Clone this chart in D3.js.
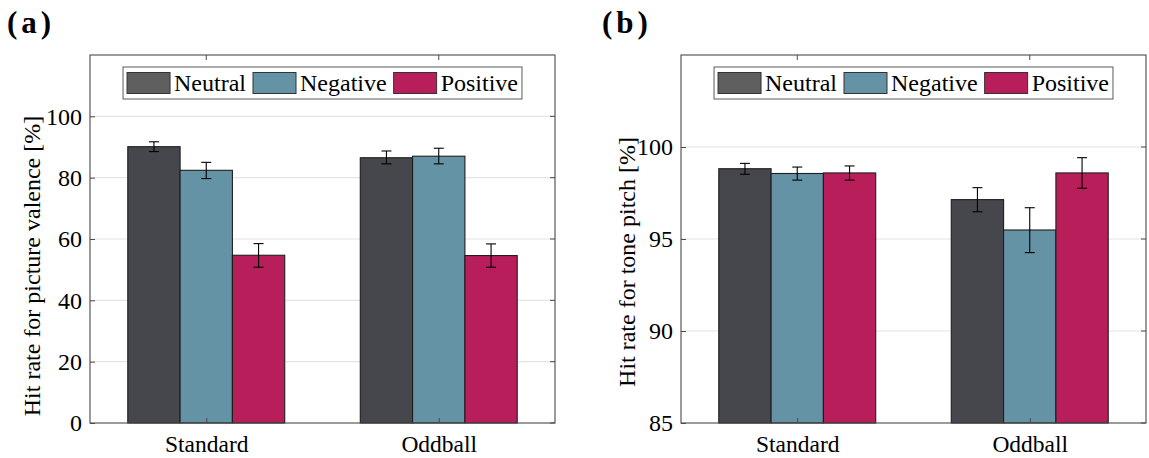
<!DOCTYPE html>
<html>
<head>
<meta charset="utf-8">
<script src="https://cdn.jsdelivr.net/npm/d3@7"></script>
<style>
  body { margin: 0; background: #fff; }
  svg, svg text { font-family: 'Liberation Serif', 'Times New Roman', Times, 'DejaVu Serif', serif !important; }
</style>
</head>
<body>
<svg id="chart" width="1149" height="458"></svg>
<script>
// ---------- data ----------
const categories = ["Standard", "Oddball"];
const seriesNames = ["Neutral", "Negative", "Positive"];
const barColors = ["#45474d", "#6593a6", "#b81f5a"];
const legendColors = ["#5f5f5f", "#6593a6", "#b81f5a"];

// Panel (a): hit rate for picture valence [%]
const valenceMean = [[90.1, 82.4, 54.7], [86.5, 87.0, 54.6]];
const valenceLow  = [[88.5, 79.7, 50.8], [84.5, 84.5, 50.8]];
const valenceHigh = [[91.7, 85.0, 58.5], [88.7, 89.6, 58.4]];
const valenceTicks = [0, 20, 40, 60, 80, 100];

// Panel (b): hit rate for tone pitch [%]
const pitchMean = [[98.82, 98.56, 98.59], [97.14, 95.49, 98.59]];
const pitchLow  = [[98.52, 98.20, 98.20], [96.48, 94.26, 97.76]];
const pitchHigh = [[99.11, 98.91, 98.97], [97.79, 96.70, 99.42]];
const pitchTicks = [85, 90, 95, 100];

const FONT = "'Liberation Serif', 'Times New Roman', Times, serif";
const svg = d3.select("#chart").attr("font-family", FONT);

function panel(opts) {
  const { left, right, top, bottom, yDomain, ticks, mean, low, high, ylabel, ylabelX, ylabelY, tag, tagX } = opts;
  const g = svg.append("g");

  const x = d3.scaleLinear().domain([0.5, 2.5]).range([left, right]);
  const y = d3.scaleLinear().domain(yDomain).range([bottom, top]);
  const barW = 0.225;

  // grid
  g.selectAll("line.grid").data(ticks.filter(t => t !== yDomain[0])).join("line")
    .attr("x1", left).attr("x2", right)
    .attr("y1", d => y(d)).attr("y2", d => y(d))
    .attr("stroke", "#e4e4e4").attr("stroke-width", 1.2);

  // bars
  categories.forEach((c, ci) => {
    seriesNames.forEach((s, si) => {
      g.append("rect")
        .attr("x", x(ci + 1 + (si - 1) * barW - barW / 2))
        .attr("width", x(1 + barW) - x(1))
        .attr("y", y(mean[ci][si]))
        .attr("height", y(yDomain[0]) - y(mean[ci][si]))
        .attr("fill", barColors[si])
        .attr("stroke", "#1e1e1e").attr("stroke-width", 1.1);
    });
  });

  // error bars
  categories.forEach((c, ci) => {
    seriesNames.forEach((s, si) => {
      const px = x(ci + 1 + (si - 1) * barW);
      const cap = 5;
      g.append("line").attr("x1", px).attr("x2", px)
        .attr("y1", y(low[ci][si])).attr("y2", y(high[ci][si]))
        .attr("stroke", "#000").attr("stroke-width", 1.1);
      [low[ci][si], high[ci][si]].forEach(v => {
        g.append("line").attr("x1", px - cap).attr("x2", px + cap)
          .attr("y1", y(v)).attr("y2", y(v))
          .attr("stroke", "#000").attr("stroke-width", 1.1);
      });
    });
  });

  // box
  g.append("rect").attr("x", left).attr("y", top)
    .attr("width", right - left).attr("height", bottom - top)
    .attr("fill", "none").attr("stroke", "#4a4a4a").attr("stroke-width", 1.1);

  // y axis (ticks inward)
  const yAxis = d3.axisLeft(y).tickValues(ticks).tickSize(-5).tickPadding(8).tickFormat(d3.format("d"));
  const ya = g.append("g").attr("transform", `translate(${left},0)`).call(yAxis)
    .attr("font-family", FONT).attr("font-size", 24);
  ya.select(".domain").remove();
  ya.selectAll(".tick line").attr("stroke", "#4a4a4a");
  ya.selectAll(".tick text").attr("fill", "#000");

  // right ticks
  g.selectAll("line.rt").data(ticks).join("line")
    .attr("x1", right).attr("x2", right - 5)
    .attr("y1", d => y(d)).attr("y2", d => y(d)).attr("stroke", "#4a4a4a");

  // x axis
  const xAxis = d3.axisBottom(x).tickValues([1, 2]).tickSize(-5).tickPadding(12)
    .tickFormat(d => categories[d - 1]);
  const xa = g.append("g").attr("transform", `translate(0,${bottom})`).call(xAxis)
    .attr("font-family", FONT).attr("font-size", 23.5);
  xa.select(".domain").remove();
  xa.selectAll(".tick line").attr("stroke", "#4a4a4a");
  xa.selectAll(".tick text").attr("fill", "#000");

  // top ticks
  g.selectAll("line.tt").data([1, 2]).join("line")
    .attr("x1", d => x(d)).attr("x2", d => x(d))
    .attr("y1", top).attr("y2", top + 5).attr("stroke", "#4a4a4a");

  // y label
  g.append("text")
    .attr("transform", `translate(${ylabelX},${ylabelY}) rotate(-90)`)
    .attr("text-anchor", "middle").attr("dominant-baseline", "central")
    .attr("font-size", 24).attr("fill", "#000").text(ylabel);

  // panel tag
  g.append("text").attr("x", tagX).attr("y", 33)
    .attr("font-size", 31).attr("font-weight", "bold").attr("letter-spacing", 4)
    .attr("fill", "#000").text(tag);

  // legend
  const lg = g.append("g");
  const fs = 24, sw = 43, sh = 21, gapTxt = 4, gapItem = 7;
  const temp = lg.append("text").attr("font-size", fs);
  const widths = seriesNames.map(n => { temp.text(n); return temp.node().getComputedTextLength(); });
  temp.remove();
  const innerPad = 4;
  const totalW = innerPad * 2 + d3.sum(widths) + seriesNames.length * (sw + gapTxt) + (seriesNames.length - 1) * gapItem;
  const lx = (left + right) / 2 - totalW / 2;
  const ly = 67, lh = 32;
  lg.append("rect").attr("x", lx).attr("y", ly).attr("width", totalW).attr("height", lh)
    .attr("fill", "#fff").attr("stroke", "#5a5a5a").attr("stroke-width", 1);
  let cx = lx + innerPad;
  seriesNames.forEach((n, i) => {
    lg.append("rect").attr("x", cx).attr("y", ly + (lh - sh) / 2).attr("width", sw).attr("height", sh)
      .attr("fill", legendColors[i]).attr("stroke", "#333").attr("stroke-width", 1);
    cx += sw + gapTxt;
    lg.append("text").attr("x", cx).attr("y", ly + lh / 2 + 8)
      .attr("font-size", fs).attr("fill", "#000").text(n);
    cx += widths[i] + gapItem;
  });
}

panel({
  left: 90, right: 555, top: 55, bottom: 423,
  yDomain: [0, 120], ticks: valenceTicks,
  mean: valenceMean, low: valenceLow, high: valenceHigh,
  ylabel: "Hit rate for picture valence [%]", ylabelX: 32, ylabelY: 266,
  tag: "(a)", tagX: 7
});

panel({
  left: 681, right: 1146, top: 55, bottom: 423,
  yDomain: [85, 105], ticks: pitchTicks,
  mean: pitchMean, low: pitchLow, high: pitchHigh,
  ylabel: "Hit rate for tone pitch [%]", ylabelX: 627, ylabelY: 262,
  tag: "(b)", tagX: 602
});
</script>
</body>
</html>
